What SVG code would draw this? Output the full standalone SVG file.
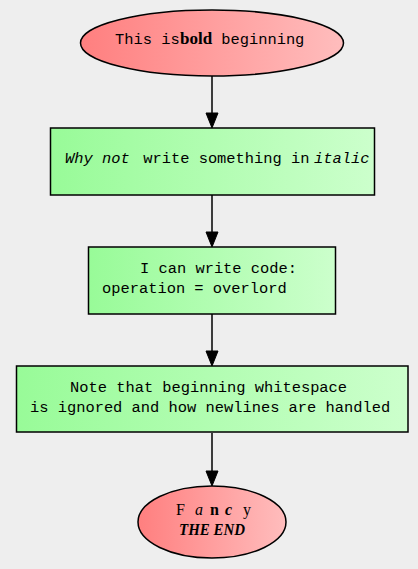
<svg xmlns="http://www.w3.org/2000/svg" width="418" height="569" viewBox="0 0 418 569">
<defs>
<linearGradient id="red" x1="0" y1="0" x2="1" y2="0">
<stop offset="0" stop-color="#ff7f7f"/>
<stop offset="1" stop-color="#ffbdbd"/>
</linearGradient>
<linearGradient id="green" x1="0" y1="0" x2="1" y2="0">
<stop offset="0" stop-color="#98fb98"/>
<stop offset="1" stop-color="#ccffcc"/>
</linearGradient>
</defs>
<style>
.el{fill:url(#red);stroke:#000;stroke-width:1.5}
.bx{fill:url(#green);stroke:#000;stroke-width:1.5}
.t{font-family:"Liberation Mono","DejaVu Sans Mono",monospace;font-size:15.4px;fill:#000}
.it{font-style:italic}
.b{font-weight:bold}
.s{font-family:"Liberation Serif","Times New Roman",serif;font-size:16px;fill:#000}
.edge line{stroke:#000;stroke-width:1.5}
.edge polygon{fill:#000;stroke:#000;stroke-width:1}
</style>
<rect x="0" y="0" width="418" height="569" fill="#eeeeee"/>
<g id="edges" class="edge">
<line x1="212" y1="76" x2="212" y2="113"/>
<polygon points="206,113 218,113 212,128"/>
<line x1="212" y1="195" x2="212" y2="232"/>
<polygon points="206,232 218,232 212,247"/>
<line x1="212" y1="314" x2="212" y2="351"/>
<polygon points="206,351 218,351 212,366"/>
<line x1="212" y1="433" x2="212" y2="471"/>
<polygon points="206,471 218,471 212,486"/>
</g>
<g id="n1">
<ellipse class="el" cx="212" cy="43" rx="131.5" ry="33"/>
<text class="t" y="44"><tspan x="115">This is</tspan><tspan x="180" class="s b" style="font-size:17px">bold</tspan><tspan x="212"> beginning</tspan></text>
</g>
<g id="n2">
<rect class="bx" x="50.5" y="128" width="324" height="67"/>
<text class="t" y="163"><tspan x="65" class="it">Why not</tspan><tspan x="134"> write something in</tspan><tspan x="314" class="it">italic</tspan></text>
</g>
<g id="n3">
<rect class="bx" x="88.5" y="247" width="247" height="67"/>
<text class="t"><tspan x="140" y="273">I can write code:</tspan><tspan x="102" y="293">operation = overlord</tspan></text>
</g>
<g id="n4">
<rect class="bx" x="16.5" y="366" width="391.5" height="66"/>
<text class="t"><tspan x="70" y="392">Note that beginning whitespace</tspan><tspan x="30" y="412">is ignored and how newlines are handled</tspan></text>
</g>
<g id="n5">
<ellipse class="el" cx="212" cy="522" rx="74" ry="36"/>
<text class="s" y="515"><tspan x="176">F</tspan><tspan x="195" class="it">a</tspan><tspan x="210" class="b">n</tspan><tspan x="225" class="b it">c</tspan><tspan x="243">y</tspan></text>
<text class="s b it" x="179" y="535" style="font-size:17px" textLength="66" lengthAdjust="spacingAndGlyphs">THE END</text>
</g>
</svg>
